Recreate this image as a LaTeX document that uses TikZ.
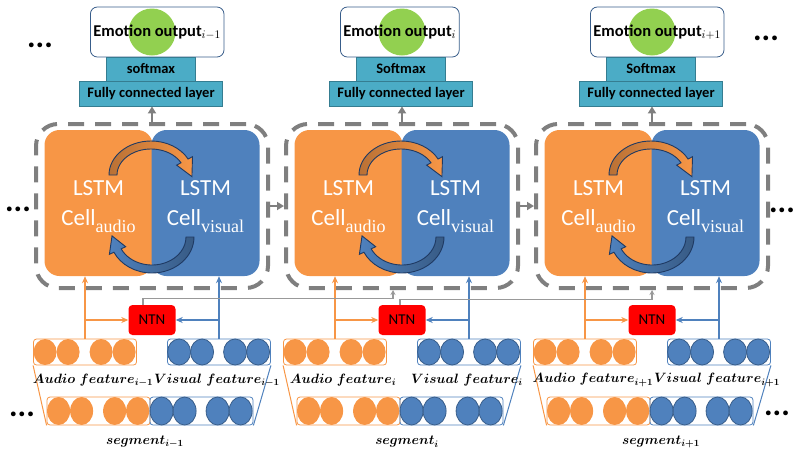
\documentclass[tikz,border=0pt]{standalone}
\usepackage{fix-cm}
\usepackage{fontspec}
\usepackage{bm}
\newfontfamily\carlito{Carlito}
\newfontfamily\subserif{Liberation Serif}
\usetikzlibrary{calc,arrows.meta}

\definecolor{lstmorange}{HTML}{F79646}
\definecolor{lstmblue}{HTML}{4F81BD}
\definecolor{layerblue}{HTML}{4BACC6}
\definecolor{layeredge}{HTML}{357D91}
\definecolor{outgreen}{HTML}{92D050}
\definecolor{ntnred}{HTML}{FF0000}
\definecolor{darkline}{HTML}{1F3A63}
\definecolor{circedge}{HTML}{385D8A}
\definecolor{linegray}{HTML}{7F7F7F}

\newcommand{\cellsub}[1]{\raisebox{-7pt}{\subserif\fontsize{18}{18}\selectfont #1}}

\begin{document}
\begin{tikzpicture}[x=1pt, y=1pt,
    outbox/.style={draw=circedge, line width=0.8, rounded corners=7, minimum height=50, inner xsep=3, font=\carlito\bfseries\fontsize{16.5}{19}\selectfont},
    layerbox/.style={draw=layeredge, fill=layerblue, line width=0.8, inner sep=0, font=\carlito\bfseries\fontsize{14.5}{16}\selectfont},
    dashbox/.style={draw=linegray, line width=4, dash pattern=on 16pt off 11pt, rounded corners=22, minimum width=232, minimum height=164},
    cellbox/.style={rounded corners=15, minimum width=108, minimum height=146, align=center, text=white, font=\carlito\fontsize{23}{30}\selectfont},
    swaparrow/.style={draw=darkline, line width=0.9},
    featbox/.style={draw, line width=0.8, rounded corners=3, minimum width=103, minimum height=26, inner sep=0},
    bluedot/.style={fill=lstmblue, draw=circedge, line width=0.8},
    featlabel/.style={font=\fontsize{13.5}{15}\selectfont, inner sep=0},
    ntnbox/.style={fill=ntnred, rounded corners=4, minimum width=47, minimum height=30, inner sep=0, font=\carlito\fontsize{15}{18}\selectfont},
    audline/.style={draw=lstmorange, line width=1.5, -{Stealth[length=7pt, width=6pt]}},
    visline/.style={draw=lstmblue, line width=1.5, -{Stealth[length=7pt, width=6pt]}},
    grayarrow/.style={draw=linegray, line width=2.5, -{Triangle[length=7pt, width=8pt]}},
    ntnline/.style={draw=linegray!80, line width=1.2, -{Stealth[length=5pt, width=5pt]}},
    dots/.style={font=\carlito\bfseries\fontsize{32}{32}\selectfont, inner sep=0}]
\useasboundingbox (0,0) rectangle (795,-461);

\foreach \c/\s/\sm/\segx [count=\n] in {152/{i-1}/softmax/145, 402/i/Softmax/407, 652/{i+1}/Softmax/661}{
  % output layers
  \fill[outgreen] (\c,-32) circle (23.5);
  \node[outbox, anchor=west] (out\n) at (\c-62,-32) {Emotion output$_{\s}$};
  \node[layerbox, minimum width=89, minimum height=24] (sm\n) at (\c-1,-69) {\sm};
  \node[layerbox, minimum width=143, minimum height=25] (fc\n) at (\c-1,-93.5) {Fully connected layer};

  % LSTM cells
  \node[dashbox] (frame\n) at (\c,-206) {};
  \node[cellbox, fill=lstmorange, text depth=-3pt] (audcell\n) at (\c-53.5,-203) {LSTM\\Cell\cellsub{audio}};
  \node[cellbox, fill=lstmblue, text depth=-3pt] (viscell\n) at (\c+53.5,-203) {LSTM\\Cell\cellsub{visual}};
  \draw[grayarrow] (frame\n.north) -- (frame\n.north |- fc\n.south);

  % swap arrows
  \coordinate (up\n) at (\c-1,-175);
  \coordinate (low\n) at (\c,-237);
  \shadedraw[swaparrow, left color=lstmorange!75!black, right color=lstmorange]
    ($(up\n)+(180:42 and 34)$) arc[start angle=180, end angle=28, x radius=42, y radius=34]
    -- ($(up\n)+(28:47 and 39)$) -- ($(up\n)+(-3:41 and 31)$) -- ($(up\n)+(28:29 and 21)$)
    -- ($(up\n)+(28:34 and 26)$) arc[start angle=28, end angle=180, x radius=34, y radius=26] -- cycle;
  \shadedraw[swaparrow, left color=lstmblue, right color=lstmblue!70!black]
    ($(low\n)+(0:42 and 36)$) arc[start angle=0, end angle=-155, x radius=42, y radius=36]
    -- ($(low\n)+(-155:47 and 41)$) -- ($(low\n)+(-182:40 and 32)$) -- ($(low\n)+(-155:29 and 23)$)
    -- ($(low\n)+(-155:34 and 28)$) arc[start angle=-155, end angle=0, x radius=34, y radius=28] -- cycle;

  % features
  \node[featbox, draw=lstmorange] (audio\n) at (\c-67,-352) {};
  \node[featbox, draw=lstmblue] (vis\n) at (\c+67,-352) {};
  \node[featbox, draw=lstmorange, minimum height=28] (segaud\n) at (\c-53.5,-411) {};
  \node[featbox, draw=lstmblue, minimum height=28] (segvis\n) at (\c+49.5,-411) {};
  \foreach \e in {12,35,68,91}{
    \fill[lstmorange] ($(audio\n.west)+(\e,0)$) ellipse [x radius=11.5, y radius=13];
    \filldraw[bluedot] ($(vis\n.west)+(\e,0)$) ellipse [x radius=11.5, y radius=13];
    \fill[lstmorange] ($(segaud\n.west)+(\e,0)$) ellipse [x radius=11.5, y radius=14];
    \filldraw[bluedot] ($(segvis\n.west)+(\e,0)$) ellipse [x radius=11.5, y radius=14];
  }
  \draw[lstmorange, line width=1] (audio\n.south west) -- (segaud\n.south west);
  \draw[lstmblue, line width=1] (vis\n.south east) -- (segvis\n.south east);
  \node[featlabel] (audlab\n) at (\c-59,-380) {$\bm{Audio\ feature_{\s}}$};
  \node[featlabel] (vislab\n) at (\c+65,-380) {$\bm{Visual\ feature_{\s}}$};
  \node[featlabel] (seglab\n) at (\segx,-442) {$\bm{segment_{\s}}$};

  % NTN
  \node[ntnbox] (ntn\n) at (\c,-320) {NTN};
  \draw[audline] (audio\n.north) -- (audio\n.north |- audcell\n.south);
  \draw[audline] (audio\n.north |- ntn\n.west) -- (ntn\n.west);
  \draw[visline] (vis\n.north) -- (vis\n.north |- viscell\n.south);
  \draw[visline] (vis\n.north |- ntn\n.east) -- (ntn\n.east);
}

% between blocks
\draw[grayarrow] (frame1.east) -- (frame2.west);
\draw[grayarrow] (frame2.east) -- (frame3.west);
\draw[ntnline] ($(ntn1.north)+(-9,0)$) -- ++(0,6) -| ($(frame2.south)+(-9,0)$);
\draw[ntnline] ($(ntn2.north)+(-2,0)$) -- ++(0,5) -| (frame3.south);

% dots
\node[dots] (dotsTL) at (40,-45) {...};
\node[dots] (dotsTR) at (766,-38) {...};
\node[dots] (dotsML) at (18,-209) {...};
\node[dots] (dotsMR) at (782,-210) {...};
\node[dots] (dotsBL) at (22,-414) {...};
\node[dots] (dotsBR) at (777,-413) {...};
\end{tikzpicture}
\end{document}
